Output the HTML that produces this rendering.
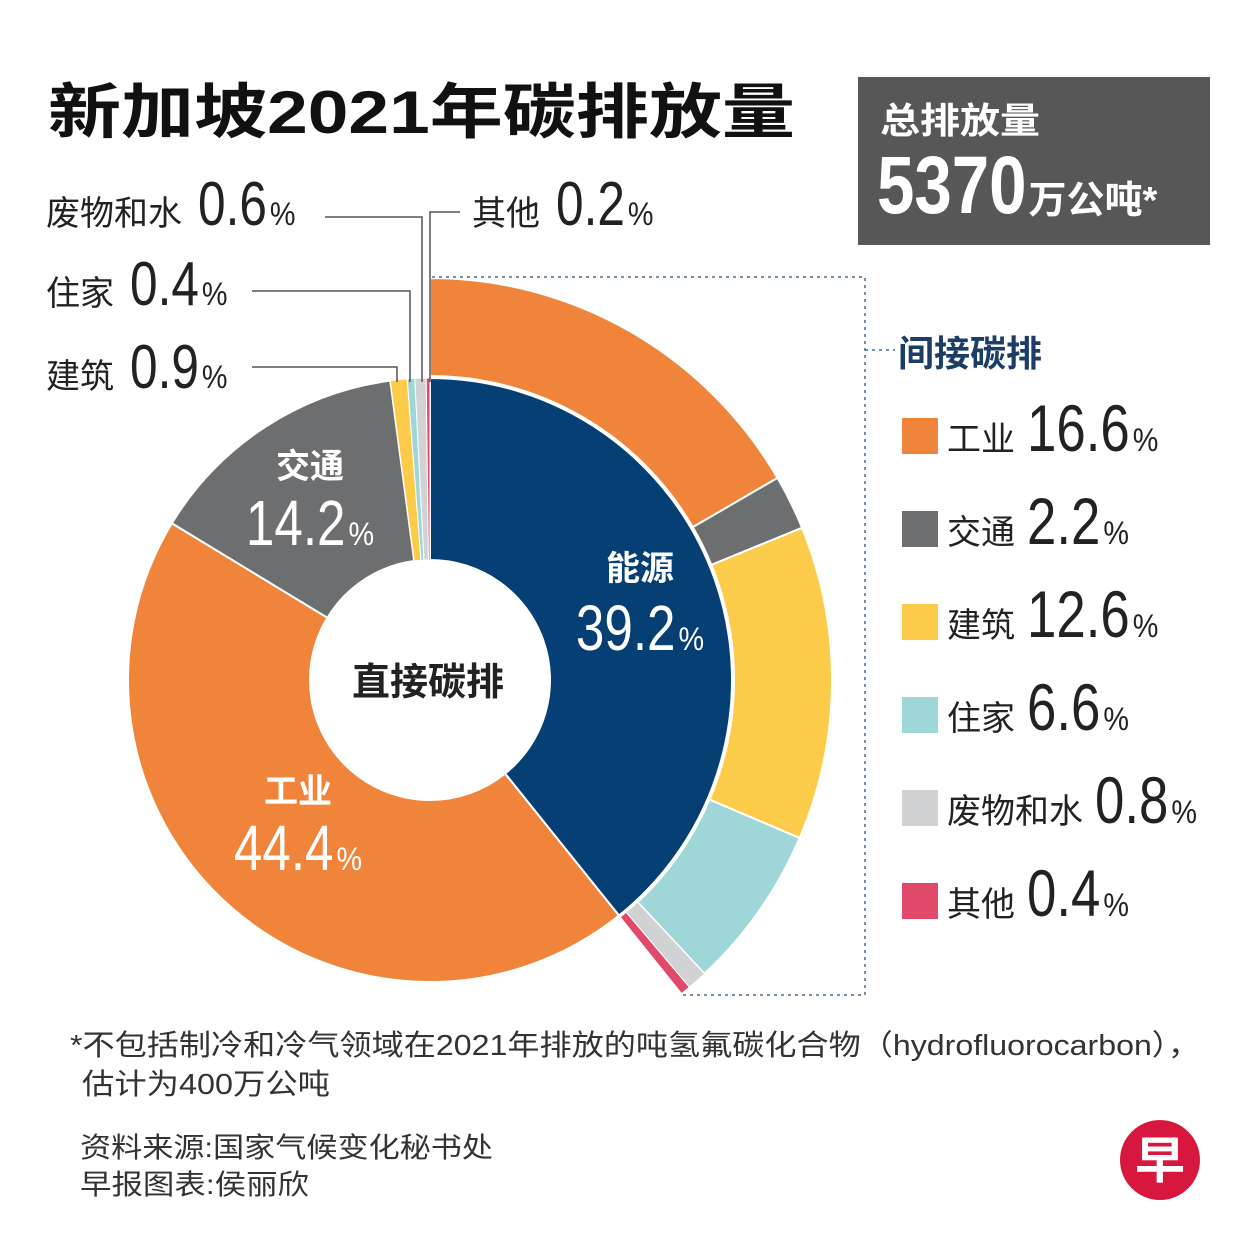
<!DOCTYPE html>
<html><head><meta charset="utf-8">
<style>
html,body{margin:0;padding:0;background:#fff;}
svg{display:block;}
text{font-family:"Liberation Sans","Noto Sans CJK SC",sans-serif;}
</style></head>
<body>
<svg id="chart" width="1251" height="1251" viewBox="0 0 1251 1251">
  <text x="48" y="133" font-size="60" font-weight="bold" fill="#111" textLength="747" lengthAdjust="spacingAndGlyphs">新加坡2021年碳排放量</text>
  <g id="totalbox">
    <rect x="858" y="77" width="352" height="168" fill="#575757"/>
    <text x="880" y="133" font-size="36" font-weight="bold" fill="#fff" textLength="160" lengthAdjust="spacingAndGlyphs">总排放量</text>
  </g>
  <g id="rings"></g>
  <g stroke="#555" stroke-width="1.5" fill="none">
    <polyline points="325,217 422,217 422,382"/>
    <polyline points="460,212 430,212 430,382"/>
    <polyline points="252,291 410,291 410,382"/>
    <polyline points="252,367 397,367 397,382"/>
  </g>
  <g stroke="#4a6a8a" stroke-width="1.5" fill="none" stroke-dasharray="3,4">
    <polyline points="432,277 865,277 865,995 680,995"/>
    <line x1="865" y1="350" x2="895" y2="350"/>
  </g>
  <g id="smalllabels"></g>
  <g id="slicelabels">
    <text x="428" y="695" font-size="38" font-weight="bold" fill="#222" text-anchor="middle">直接碳排</text>
  </g>
  <text x="898" y="366" font-size="36" font-weight="bold" fill="#1b3d66">间接碳排</text>
  <g id="legend"></g>
  <g fill="#333" font-size="29">
    <text x="70" y="1055" textLength="1130" lengthAdjust="spacingAndGlyphs">*不包括制冷和冷气领域在2021年排放的吨氢氟碳化合物（hydrofluorocarbon），</text>
    <text x="82" y="1094" textLength="248" lengthAdjust="spacingAndGlyphs">估计为400万公吨</text>
    <text x="80" y="1157" font-size="28" textLength="413" lengthAdjust="spacingAndGlyphs">资料来源:国家气候变化秘书处</text>
    <text x="80" y="1194" font-size="28" textLength="229" lengthAdjust="spacingAndGlyphs">早报图表:侯丽欣</text>
  </g>
  <g>
    <circle cx="1160" cy="1160" r="40" fill="#d8173f"/>
    <text x="1160" y="1178" font-size="50" font-weight="bold" fill="#fff" text-anchor="middle">早</text>
  </g>
</svg>
<script>
const directLabels = ["能源","工业","交通","建筑","住家","废物和水","其他"];
const directValues = [39.2,44.4,14.2,0.9,0.4,0.6,0.2];
const indirectLabels = ["工业","交通","建筑","住家","废物和水","其他"];
const indirectValues = [16.6,2.2,12.6,6.6,0.8,0.4];
const directColors = ["#063f73","#f0843a","#6d6e70","#fccb4a","#9fd6d8","#d1d2d3","#e0496a"];
const indirectColors = ["#f0843a","#6d6e70","#fccb4a","#9fd6d8","#d1d2d3","#e0496a"];
const NS="http://www.w3.org/2000/svg";
const cx=430, cy=680;
const directTotal = directValues.reduce((a,b)=>a+b,0);
function angle(v){ return v/directTotal*360; }
function pt(r,a){ const t=a*Math.PI/180; return [cx+r*Math.sin(t), cy-r*Math.cos(t)]; }
function arc(r0,r1,a0,a1){
  const [x0,y0]=pt(r1,a0),[x1,y1]=pt(r1,a1),[x2,y2]=pt(r0,a1),[x3,y3]=pt(r0,a0);
  const lg=(a1-a0)>180?1:0;
  return `M${x0},${y0}A${r1},${r1} 0 ${lg} 1 ${x1},${y1}L${x2},${y2}A${r0},${r0} 0 ${lg} 0 ${x3},${y3}Z`;
}
// parts: [text, size, scaleX, weight, gapAfter]
function compose(parent, x, y, anchor, fill, parts){
  const g=document.createElementNS(NS,'g');
  parent.appendChild(g);
  let cur=0;
  parts.forEach(p=>{
    const t=document.createElementNS(NS,'text');
    t.textContent=p[0];
    t.setAttribute('font-size',p[1]);
    t.setAttribute('fill',fill);
    if(p[3]) t.setAttribute('font-weight',p[3]);
    t.setAttribute('transform',`translate(${cur},0) scale(${p[2]},1)`);
    g.appendChild(t);
    cur+=t.getComputedTextLength()*p[2]+(p[4]||0);
  });
  const ox = anchor==='middle'? x-cur/2 : x;
  g.setAttribute('transform',`translate(${ox},${y})`);
  return g;
}
const rings=document.getElementById('rings');
let a=0;
directValues.forEach((v,i)=>{
  const p=document.createElementNS(NS,'path');
  const a1=a+angle(v);
  p.setAttribute('d',arc(120,302,a,a1));
  p.setAttribute('fill',directColors[i]);
  p.setAttribute('stroke','#fff');
  p.setAttribute('stroke-width', v<1?'1':'2');
  
  
  rings.appendChild(p);
  a=a1;
});
a=0;
indirectValues.forEach((v,i)=>{
  const p=document.createElementNS(NS,'path');
  const a1=a+angle(v);
  p.setAttribute('d',arc(304,402,a,a1));
  p.setAttribute('fill',indirectColors[i]);
  p.setAttribute('stroke','#fff');
  p.setAttribute('stroke-width', v<1?'1':'2');
  
  
  rings.appendChild(p);
  a=a1;
});
const SX=0.8;
const tb=compose(document.getElementById('totalbox'),877,213,'start','#fff',[["5370",82,0.82,"bold",2],["万公吨*",38,1,"bold"]]);


const sl=document.getElementById('slicelabels');
const bigPos={0:[640,580,650],1:[298,803,870],2:[310,478,545]};
[0,1,2].forEach(i=>{
  const [x,y1,y2]=bigPos[i];
  const t=document.createElementNS(NS,'text');
  t.setAttribute('x',x);t.setAttribute('y',y1);t.setAttribute('font-size',34);
  t.setAttribute('font-weight','bold');t.setAttribute('fill','#fff');t.setAttribute('text-anchor','middle');
  t.textContent=directLabels[i];
  
  
  sl.appendChild(t);
  const g=compose(sl,x,y2,'middle','#fff',[[directValues[i].toFixed(1),64,SX,null,3],["%",32,0.9]]);
  
  
});
const sm=document.getElementById('smalllabels');
const smallPos={3:[46,388],4:[46,305],5:[46,225],6:[472,225]};
[3,4,5,6].forEach(i=>{
  const g=compose(sm,smallPos[i][0],smallPos[i][1],'start','#222',[[directLabels[i],34,1,null,16],[directValues[i].toFixed(1),62,SX,null,3],["%",32,0.9]]);
  
  
});
const leg=document.getElementById('legend');
indirectValues.forEach((v,i)=>{
  const y=418+i*93;
  const r=document.createElementNS(NS,'rect');
  r.setAttribute('x',902);r.setAttribute('y',y);r.setAttribute('width',36);r.setAttribute('height',36);
  r.setAttribute('fill',indirectColors[i]);
  
  
  leg.appendChild(r);
  const g=compose(leg,947,y+33,'start','#222',[[indirectLabels[i],34,1,null,12],[v.toFixed(1),66,SX,null,3],["%",32,0.9]]);
  
  
});
</script>
</body></html>
